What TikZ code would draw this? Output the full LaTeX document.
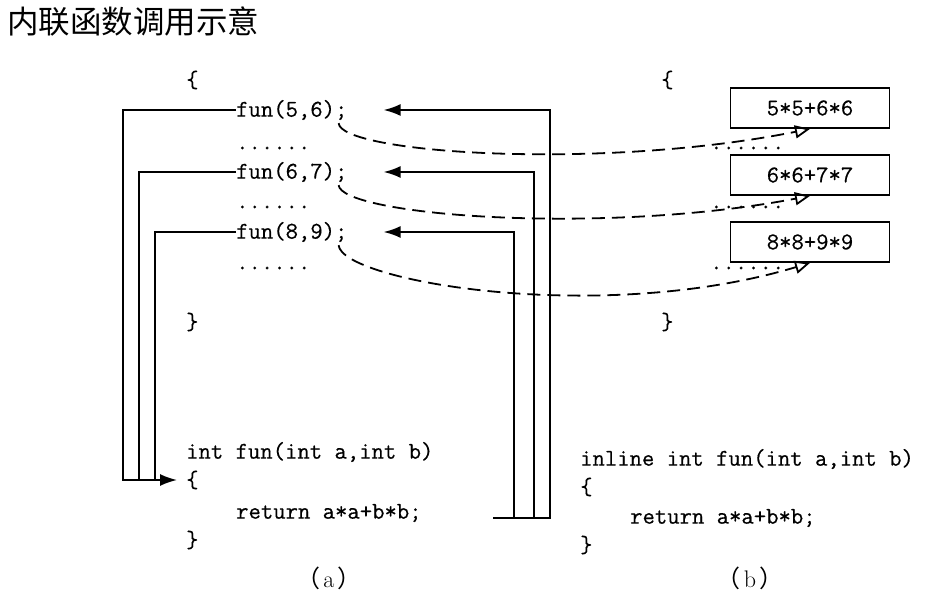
\documentclass[tikz,border=0pt]{standalone}
\usepackage{fontspec}
\newfontfamily\cjk{Noto Sans CJK SC}
\newfontfamily\codigofont{Latin Modern Mono}[FakeBold=0.5]
\usetikzlibrary{arrows.meta}

\tikzset{
  codigo/.style={font=\fontsize{24}{24}\selectfont\codigofont, inner sep=0pt, anchor=west},
  caixa/.style={draw, line width=1.8pt, font=\fontsize{24}{24}\selectfont\codigofont,
    minimum width=159pt, minimum height=40pt, inner sep=0pt},
  chamada/.style={line width=1.8pt, -{Latex[length=17pt,width=12pt]}},
  ramo/.style={line width=1.8pt},
  expande/.style={line width=1.8pt, dash pattern=on 13pt off 7pt,
    -{Triangle[open,length=15pt,width=13pt,line width=1.8pt]}},
  legenda/.style={font=\fontsize{24}{24}\selectfont, inner sep=0pt},
}

\begin{document}
\begin{tikzpicture}[x=1pt,y=-1pt]
    \useasboundingbox (0,0) rectangle (939,601);

    % Titulo
    \node[anchor=west, inner sep=0pt, font=\cjk\fontsize{31.5}{32}\selectfont] (titulo) at (7,22) {内联函数调用示意};

    % (a) chamadas
    \node[codigo] (abrea) at (186,80) {\{};
    \node[codigo] (c1) at (236,110) {fun(5,6);};
    \node[codigo] (p1) at (236,148) {......};
    \node[codigo] (c2) at (236,172) {fun(6,7);};
    \node[codigo] (p2) at (236,207) {......};
    \node[codigo] (c3) at (236,232) {fun(8,9);};
    \node[codigo] (p3) at (236,268) {......};
    \node[codigo] (fechaa) at (186,322) {\}};

    % (a) definicao da funcao
    \node[codigo] (decla) at (186,452) {int fun(int a,int b)};
    \node[codigo] (corpoa) at (186,480) {\{};
    \node[codigo] (reta) at (236,513) {return a*a+b*b;};
    \node[codigo] (fima) at (186,540) {\}};
    \node[legenda] (lega) at (329,578) {{\cjk （}\hspace{3pt}a\hspace{3pt}{\cjk ）}};

    % Saltos para a funcao
    \coordinate (e1) at (123,480);
    \coordinate (e2) at (139,480);
    \coordinate (e3) at (155,480);
    \draw[chamada] (c1.west) -| (e1) -- ([xshift=-9pt]e1 -| corpoa.west);
    \draw[ramo] (c2.west) -| (e2);
    \draw[ramo] (c3.west) -| (e3);

    % Retornos
    \coordinate (r0) at (493,518);
    \coordinate (r1) at (550,518);
    \coordinate (r2) at (534,518);
    \coordinate (r3) at (514,518);
    \draw[chamada] (r0) -- (r1) |- ([xshift=36pt]c1.east);
    \draw[chamada] (r2) |- ([xshift=36pt]c2.east);
    \draw[chamada] (r3) |- ([xshift=36pt]c3.east);

    % (b) expansao inline
    \node[codigo] (abreb) at (661,80) {\{};
    \node[caixa] (b1) at (810,108) {5*5+6*6};
    \node[codigo] (q1) at (710,148) {......};
    \node[caixa] (b2) at (810,175) {6*6+7*7};
    \node[codigo] (q2) at (710,207) {......};
    \node[caixa] (b3) at (810,242) {8*8+9*9};
    \node[codigo] (q3) at (710,268) {......};
    \node[codigo] (fechab) at (661,322) {\}};

    % Substituicao
    \draw[expande] ([xshift=-9pt,yshift=-3pt]c1.south east) .. controls +(2,30) and +(-210,42) .. (b1.south);
    \draw[expande] ([xshift=-9pt,yshift=-3pt]c2.south east) .. controls +(3,30) and +(-210,40) .. (b2.south);
    \draw[expande] ([xshift=-9pt,yshift=-3pt]c3.south east) .. controls +(3,36) and +(-210,63) .. (b3.south);

    % (b) definicao inline
    \node[codigo] (declb) at (580,459) {inline int fun(int a,int b)};
    \node[codigo] (corpob) at (580,487) {\{};
    \node[codigo] (retb) at (630,518) {return a*a+b*b;};
    \node[codigo] (fimb) at (580,545) {\}};
    \node[legenda] (legb) at (750,578) {{\cjk （}\hspace{3pt}b\hspace{3pt}{\cjk ）}};

\end{tikzpicture}
\end{document}
